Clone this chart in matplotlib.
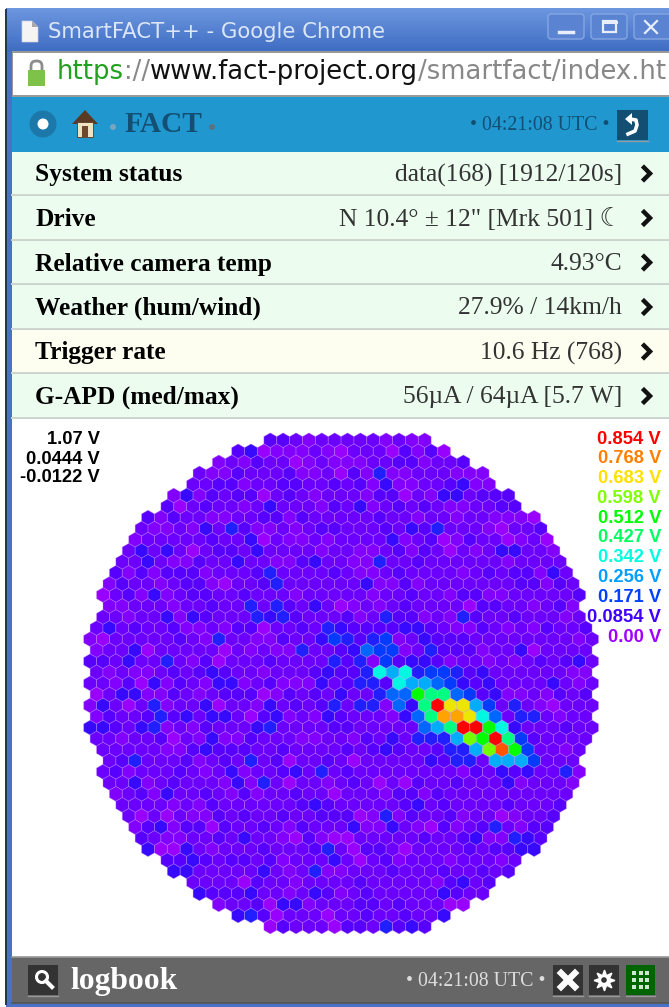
import numpy as np
import matplotlib
matplotlib.use('Agg')
import matplotlib.pyplot as plt
from matplotlib.collections import PolyCollection
from matplotlib.colors import LinearSegmentedColormap, Normalize
from matplotlib.patches import Circle, FancyBboxPatch, Polygon, Rectangle

# status list of the page
row_labels = ['System status', 'Drive', 'Relative camera temp', 'Weather (hum/wind)', 'Trigger rate', 'G-APD (med/max)']
row_values = ['data(168) [1912/120s]', 'N 10.4° ± 12" [Mrk 501] ☾', '4.93°C', '27.9% / 14km/h', '10.6 Hz (768)',
              '56µA / 64µA [5.7 W]']
utc_time = '• 04:21:08 UTC •'

# colour scale of the camera display
scale_labels = ['0.854 V', '0.768 V', '0.683 V', '0.598 V', '0.512 V', '0.427 V', '0.342 V', '0.256 V', '0.171 V',
                '0.0854 V', '0.00 V']
scale_volts = [0.854, 0.768, 0.683, 0.598, 0.512, 0.427, 0.342, 0.256, 0.171, 0.0854, 0.0]
scale_colors = ['#ff0000', '#ff8000', '#ffe000', '#80ff00', '#00ff00', '#00ff60', '#00ffdf', '#00a0ff', '#0040ff',
                '#4000ff', '#a000ff']
stat_labels = ['1.07 V', '0.0444 V', '-0.0122 V']

# volts for each symbol used in the pixel rows below
level_volts = {'0': 0.008, '1': 0.030, '2': 0.047, '3': 0.066, '4': 0.100, '5': 0.128, '6': 0.165, '7': 0.205,
               '8': 0.270, '9': 0.335, 'a': 0.405, 'b': 0.512, 'c': 0.590, 'd': 0.670, 'e': 0.735, 'f': 0.795,
               'g': 0.854}

pixel_rows = [
    '3321222221211',
    '34011121022203130',
    '12132201211122331223',
    '21132223112031511222111',
    '223312233223231411223411',
    '141323302321222133021442333',
    '3023221242221324123232112233',
    '3132211223313222223221221221110',
    '21121425311212332223243522210223',
    '122222322402112122224123013220120',
    '2424202332422221221123132021244221',
    '22421132242211342211522322222212222',
    '313133312223522223211232222123233142',
    '1322123310223522222241131222222233132',
    '02314123322322212222212232213311222223',
    '1122212232252532420121232222033221231',
    '22122414322254532223125331215322322212',
    '242322311213302232543333443211321213223',
    '1022222321522113224653561243332222222212',
    '122402222202121152234766125333122402222',
    '3324225213022232222535163443122121232342',
    '212112323432212223433598956653422222211',
    '2213041321441231114235539887643422224212',
    '0244113212333013232422577baa76341121323',
    '14202512240221423235255174agdd8625210222',
    '13223534244203412143222147aeed972552122',
    '4432451213222452222332222278aggb94222322',
    '22122302141132221122132425558cbga632222',
    '222221134333223222232343223558cfb62212',
    '2352223123252302232022222435528886222',
    '23122232124122342523222222221324342251',
    '2241232221415202212320203223222412221',
    '123142232131223220222133132222222222',
    '22221213222222343222223423222232223',
    '2020211323223223330151322312201223',
    '134133032232132224114210312352133',
    '32112232422103100222223223411543',
    '4004212223222352033202222323344',
    '3343233231222420231222122212',
    '442222242125112223222322323',
    '222203221222232222213423',
    '43334221243123222224322',
    '12230441222332322200',
    '45302220223223224',
    '0322203325343',
]
# first pixel of each row, in half pixel steps from the first pixel of the top row
row_first = [0, -5, -8, -11, -12, -15, -16, -19, -20, -21, -22, -23, -24, -25, -26, -25, -26, -27, -28, -27, -28, -27,
             -28, -27, -28, -27, -28, -27, -26, -25, -26, -25, -24, -23, -22, -21, -20, -19, -16, -15, -12, -11, -8,
             -5, 0]

SERIF = ['Liberation Serif', 'DejaVu Sans']
NAVY = '#134f72'

fig = plt.figure(figsize=(6.69, 10.07), dpi=100)
ax = fig.add_axes([0, 0, 1, 1])
ax.set_xlim(0, 669)
ax.set_ylim(1007, 0)
ax.axis('off')


def box(x0, y0, x1, y1, color, z=1, **kw):
    ax.add_patch(Rectangle((x0, y0), x1 - x0, y1 - y0, facecolor=color, edgecolor='none', zorder=z, **kw))


def label(x, y, s, size, color='black', ha='left', weight='normal', family=SERIF, z=5):
    return ax.text(x, y, s, fontsize=size, color=color, ha=ha, va='center', fontweight=weight, family=family, zorder=z)


def button(x0, y0, x1, y1, color):
    box(x0, y0, x1, y1, color, z=3)
    ax.plot([x0, x1], [y1 + 0.5, y1 + 0.5], color='#999999', lw=1, zorder=3)


# window frame
box(6, 8, 669, 1007, '#4a72c4')
box(5, 9, 7, 1005, '#2a3550')
ax.imshow(np.linspace(0, 1, 44)[:, None], extent=(7, 669, 52, 8), cmap=LinearSegmentedColormap.from_list('t', ['#6c96de', '#3f6dc3']),
          aspect='auto', zorder=1)
ax.set_xlim(0, 669)
ax.set_ylim(1007, 0)

# page icon and window title
ax.add_patch(Polygon([(22, 21), (32, 21), (38, 27), (38, 42), (22, 42)], facecolor='#f4f4f4', edgecolor='#ccd', lw=0.5, zorder=3))
ax.add_patch(Polygon([(32, 21), (38, 27), (32, 27)], facecolor='#a8a8a8', zorder=4))
label(48, 32, 'SmartFACT++ - Google Chrome', 15.3, '#dbe6f8', family='DejaVu Sans')

# window buttons
for x0, x1 in [(548, 584), (591, 627), (634, 672)]:
    ax.add_patch(FancyBboxPatch((x0, 14), x1 - x0, 25, boxstyle='round,pad=0,rounding_size=3', facecolor='#5a84d2',
                                edgecolor='#86a6e2', lw=1, zorder=3))
ax.plot([559, 573], [32, 32], color='#e8eefa', lw=2.5, zorder=4)
ax.add_patch(Rectangle((603, 21), 13, 11, facecolor='none', edgecolor='#e8eefa', lw=1.6, zorder=4))
ax.plot([603, 616], [22, 22], color='#e8eefa', lw=2.2, zorder=4)
ax.plot([645, 657], [21, 33], color='#e8eefa', lw=1.6, zorder=4)
ax.plot([645, 657], [33, 21], color='#e8eefa', lw=1.6, zorder=4)

# address bar
box(12, 51, 669, 97, '#9a9a9a')
box(13, 53, 669, 95, 'white', z=2)
box(28, 70, 45, 86, '#7fc24a', z=3)
ax.add_patch(FancyBboxPatch((31, 61), 11, 14, boxstyle='round,pad=0,rounding_size=5', facecolor='none',
                            edgecolor='#8c8c8c', lw=2, zorder=2.5))
url_parts = [('https', '#22a020'), ('://', '#888888'), ('www.fact-project.org', '#111111'), ('/smartfact/index.ht', '#888888')]
renderer = fig.canvas.get_renderer()
url_x = 57
for part, col in url_parts:
    t = label(url_x, 72, part, 18.6, col, family='DejaVu Sans')
    t.set_clip_on(True)
    url_x = t.get_window_extent(renderer).x1

# page header
box(12, 97, 669, 152, '#2197d0')
ax.add_patch(Circle((43, 124), 13.5, facecolor='#1d78aa', zorder=3))
ax.add_patch(Circle((43, 124), 5.5, facecolor='white', zorder=4))
ax.add_patch(Polygon([(72, 124), (85, 110), (98, 124)], facecolor='#5a3a22', zorder=4))
ax.add_patch(Rectangle((77, 122), 16, 15, facecolor='#efe3c4', edgecolor='#5a3a22', lw=0.6, zorder=4))
ax.add_patch(Rectangle((82, 126), 6, 11, facecolor='#6e4a2c', zorder=5))
ax.add_patch(Circle((113, 127), 3, facecolor='#7aa5be', zorder=4))
label(124, 125, 'FACT', 21.2, NAVY, weight='bold')
ax.add_patch(Circle((212, 127), 3, facecolor='#5b7280', zorder=4))
label(610, 125, utc_time, 14.3, NAVY, ha='right')
button(617, 110, 648, 140, NAVY)
ax.plot([630, 636, 637, 635, 628], [119, 120, 125, 131, 134], color='white', lw=2.6, zorder=4)
ax.add_patch(Polygon([(625, 119), (632, 113), (632, 125)], facecolor='white', zorder=4))

# status rows
row_tops = [152, 196, 241, 285, 330, 374]
row_colors = ['#ecfdf0', '#ecfdf0', '#ecfdf0', '#ecfdf0', '#fdfdf0', '#ecfdf0']
row_seps = [195, 240, 284, 329, 373, 418]
for i in range(6):
    box(12, row_tops[i], 669, row_seps[i], row_colors[i])
    ax.plot([12, 669], [row_seps[i], row_seps[i]], color='#cfd6d0', lw=1.4, zorder=2)
    cy = (row_tops[i] + row_seps[i]) / 2
    label(35, cy + 1.5, row_labels[i], 18.3, 'black', weight='bold')
    label(622, cy + 1.5, row_values[i], 18.4, '#333333', ha='right')
    ax.plot([644, 650, 644], [cy - 6, cy, cy + 6], color='#111111', lw=3.2, solid_joinstyle='miter', zorder=5)

# white camera area and footer
box(12, 419, 669, 957, 'white')
box(12, 957, 669, 1003, '#666666')
ax.plot([12, 669], [957, 957], color='#999999', lw=1.2, zorder=2)
ax.plot([12, 669], [1003, 1003], color='#555555', lw=1.2, zorder=2)

# camera pixels
pitch = 12.87
row_step = 11.05
radius = 7.45
angles = np.radians(np.arange(30, 390, 60))
hexes = []
volts = []
for r, row in enumerate(pixel_rows):
    for c, ch in enumerate(row):
        cx = 270.3 + (row_first[r] / 2 + c) * pitch
        cy = 440.3 + r * row_step
        hexes.append(np.column_stack([cx + radius * np.cos(angles), cy + radius * np.sin(angles)]))
        volts.append(level_volts[ch])

nodes = [v / scale_volts[0] for v in scale_volts[::-1]]
cmap = LinearSegmentedColormap.from_list('fact', list(zip(nodes, scale_colors[::-1])))
pixels = PolyCollection(hexes, array=np.array(volts), cmap=cmap, norm=Normalize(0, scale_volts[0]),
                        edgecolors=(0.78, 0.6, 1.0, 0.4), linewidths=0.6, zorder=3)
ax.add_collection(pixels)

# voltage labels
sans = ['Liberation Sans', 'DejaVu Sans']
for y, s in zip([440, 459, 478], stat_labels):
    label(100, y, s, 13.2, 'black', ha='right', weight='bold', family=sans, z=6)
for i, s in enumerate(scale_labels):
    label(661, 439 + i * 19.8, s, 13.2, scale_colors[i], ha='right', weight='bold', family=sans, z=6)

# footer buttons
button(28, 965, 58, 995, '#333333')
ax.add_patch(Circle((42, 977), 5.5, facecolor='none', edgecolor='white', lw=2.2, zorder=4))
ax.plot([46, 52], [981, 987], color='white', lw=3, zorder=4)
label(70, 981, 'logbook', 22.8, 'white', weight='bold')
label(546, 981, utc_time, 14.3, '#dddddd', ha='right')
button(553, 965, 583, 995, '#333333')
ax.plot([561, 575], [973, 987], color='white', lw=4.5, zorder=4)
ax.plot([561, 575], [987, 973], color='white', lw=4.5, zorder=4)
button(589, 965, 619, 995, '#333333')
ax.plot(604, 980, marker=(8, 1, 0), ms=15, color='white', zorder=4)
ax.add_patch(Circle((604, 980), 2.8, facecolor='#333333', zorder=5))
button(626, 965, 655, 995, '#006400')
for gx in [634, 640.5, 647]:
    for gy in [973, 980, 987]:
        box(gx - 2, gy - 2, gx + 2, gy + 2, '#cfe8cf', z=4)

fig.savefig('out.png', dpi=100)
